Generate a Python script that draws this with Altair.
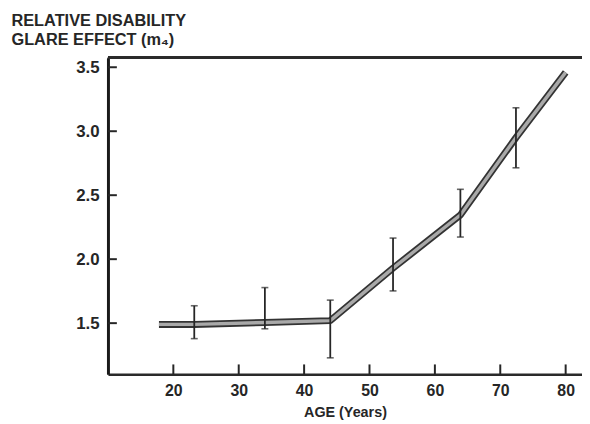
import altair as alt
import pandas as pd

# Mean curve (age in years, relative disability glare effect m4)
line_age = [17.8, 23.2, 34.0, 44.0, 53.6, 63.9, 72.4, 80.0]
line_m4 = [1.49, 1.49, 1.505, 1.52, 1.93, 2.345, 2.95, 3.46]

# Error bars
err_age = [23.2, 34.0, 44.0, 53.6, 63.9, 72.4]
err_lo = [1.379, 1.456, 1.229, 1.752, 2.173, 2.714]
err_hi = [1.636, 1.778, 1.68, 2.165, 2.546, 3.183]

x_ticks = [20, 30, 40, 50, 60, 70, 80]
y_ticks = [1.5, 2.0, 2.5, 3.0, 3.5]

W, H = 479, 320
FONT = "Liberation Sans"
INK = "#262626"

line_df = pd.DataFrame({"age": line_age, "m4": line_m4})
err_df = pd.DataFrame({"age": err_age, "lo": err_lo, "hi": err_hi})
xt_df = pd.DataFrame({"age": x_ticks})
yt_df = pd.DataFrame({"m4": y_ticks})

xs = alt.Scale(domain=[10, 82.5], nice=False, zero=False)
ys = alt.Scale(domain=[1.1, 3.575], nice=False, zero=False)

x_axis = alt.Axis(
    values=x_ticks, ticks=False, tickSize=0, grid=False, labelPadding=8,
    labelFontSize=16, labelFont=FONT, labelFontWeight="bold", labelColor=INK,
    domainColor="#2a2a2a", domainWidth=2.5,
    title="AGE (Years)", titleFont=FONT, titleFontSize=14.5, titleFontWeight="bold",
    titleColor=INK, titlePadding=8,
)
y_axis = alt.Axis(
    values=y_ticks, format=".1f", ticks=False, tickSize=0, grid=False, labelPadding=9,
    labelFontSize=17, labelFont=FONT, labelFontWeight="bold", labelColor=INK,
    domainColor="#1a1a1a", domainWidth=3,
    title=["RELATIVE DISABILITY", "GLARE EFFECT (m\u2084)"],
    titleAngle=0, titleAlign="left", titleBaseline="top",
    titleX=-98, titleY=-45, titleFont=FONT, titleFontSize=16.5, titleFontWeight="bold",
    titleLineHeight=19, titleColor=INK,
)

base_line = alt.Chart(line_df).encode(
    x=alt.X("age:Q", scale=xs, axis=x_axis),
    y=alt.Y("m4:Q", scale=ys, axis=y_axis),
)
outer = base_line.mark_line(color="#333333", strokeWidth=7, strokeCap="butt", strokeJoin="round")
inner = base_line.mark_line(color="#a9a9a9", strokeWidth=3.4, strokeCap="butt", strokeJoin="round")

top_frame = alt.Chart(xt_df).mark_rule(color="#2a2a2a", strokeWidth=2.5).encode(
    x=alt.value(0), x2=alt.value(W), y=alt.value(0)
)

xtick = alt.Chart(xt_df).mark_rule(color=INK, strokeWidth=2).encode(
    x=alt.X("age:Q", scale=xs), y=alt.value(H), y2=alt.value(H - 10)
)
ytick = alt.Chart(yt_df).mark_rule(color=INK, strokeWidth=2).encode(
    y=alt.Y("m4:Q", scale=ys), x=alt.value(0), x2=alt.value(9)
)

ebar = alt.Chart(err_df).mark_rule(color=INK, strokeWidth=1.8).encode(
    x=alt.X("age:Q", scale=xs), y=alt.Y("lo:Q", scale=ys), y2="hi:Q"
)
cap_lo = alt.Chart(err_df).mark_tick(color=INK, thickness=1.6, size=7, orient="horizontal").encode(
    x=alt.X("age:Q", scale=xs), y=alt.Y("lo:Q", scale=ys)
)
cap_hi = alt.Chart(err_df).mark_tick(color=INK, thickness=1.6, size=7, orient="horizontal").encode(
    x=alt.X("age:Q", scale=xs), y=alt.Y("hi:Q", scale=ys)
)

chart = alt.layer(
    outer, inner, top_frame, xtick, ytick, ebar, cap_lo, cap_hi
).properties(
    width=W, height=H,
    autosize=alt.AutoSizeParams(type="none"),
    padding={"left": 101, "top": 48, "right": 0, "bottom": 46},
    background="white",
).configure_view(stroke=None)

chart.save("out.html", embed_options={"renderer": "svg", "actions": False})
